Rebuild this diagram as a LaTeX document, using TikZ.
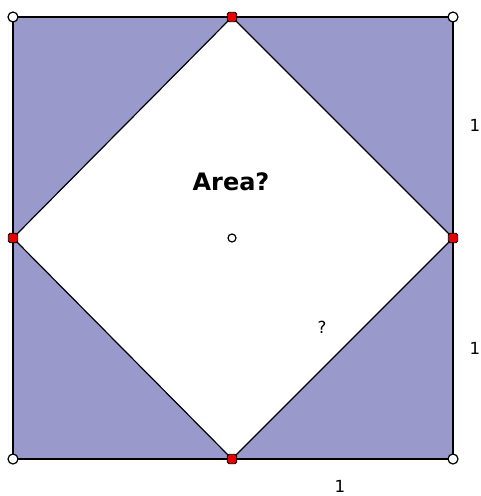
\documentclass[tikz,border=0pt]{standalone}
\usepackage{fontspec}
\setmainfont{DejaVu Sans}
\usepackage{xcolor}
\usetikzlibrary{positioning}
\definecolor{areablue}{RGB}{153,153,204}
\definecolor{dotred}{RGB}{230,0,0}

\begin{document}
\begin{tikzpicture}[
  x=0.75pt, y=-0.75pt,
  corner/.style={circle, draw, fill=white, inner sep=0pt, minimum size=7.5pt, line width=0.9pt},
  middot/.style={rectangle, rounded corners=1.2pt, draw, fill=dotred, inner sep=0pt, minimum size=7pt, line width=0.6pt},
  centre/.style={circle, draw, fill=white, inner sep=0pt, minimum size=6pt, line width=0.9pt},
  side/.style={font=\fontsize{12.5}{14}\selectfont}
]
\useasboundingbox (0,0) rectangle (480,496);
% corners and midpoints
\coordinate (tl) at (13,17);
\coordinate (tr) at (453,17);
\coordinate (br) at (453,459);
\coordinate (bl) at (13,459);
\coordinate (mt) at (232,17);
\coordinate (mr) at (453,238);
\coordinate (mb) at (232,459);
\coordinate (ml) at (13,238);
% shaded square, white diamond
\fill[areablue] (tl) -- (tr) -- (br) -- (bl) -- cycle;
\filldraw[fill=white, line width=0.9pt] (mt) -- (mr) -- (mb) -- (ml) -- cycle;
\draw[line width=1.3pt] (tl) -- (tr) -- (br) -- (bl) -- cycle;
% points
\node[corner] (ptl) at (tl) {};
\node[corner] (ptr) at (tr) {};
\node[corner] (pbr) at (br) {};
\node[corner] (pbl) at (bl) {};
\node[middot] (pmt) at (mt) {};
\node[middot] (pmr) at (mr) {};
\node[middot] (pmb) at (mb) {};
\node[middot] (pml) at (ml) {};
\node[centre] (ctr) at (232,238) {};
% labels
\node[font=\bfseries\fontsize{18}{20}\selectfont] (area) at (231,182) {Area?};
\node[side] (q) at (322,327) {?};
\node[side] (one1) at (475,125) {1};
\node[side] (one2) at (475,348) {1};
\node[side] (one3) at (340,486) {1};
\end{tikzpicture}
\end{document}
